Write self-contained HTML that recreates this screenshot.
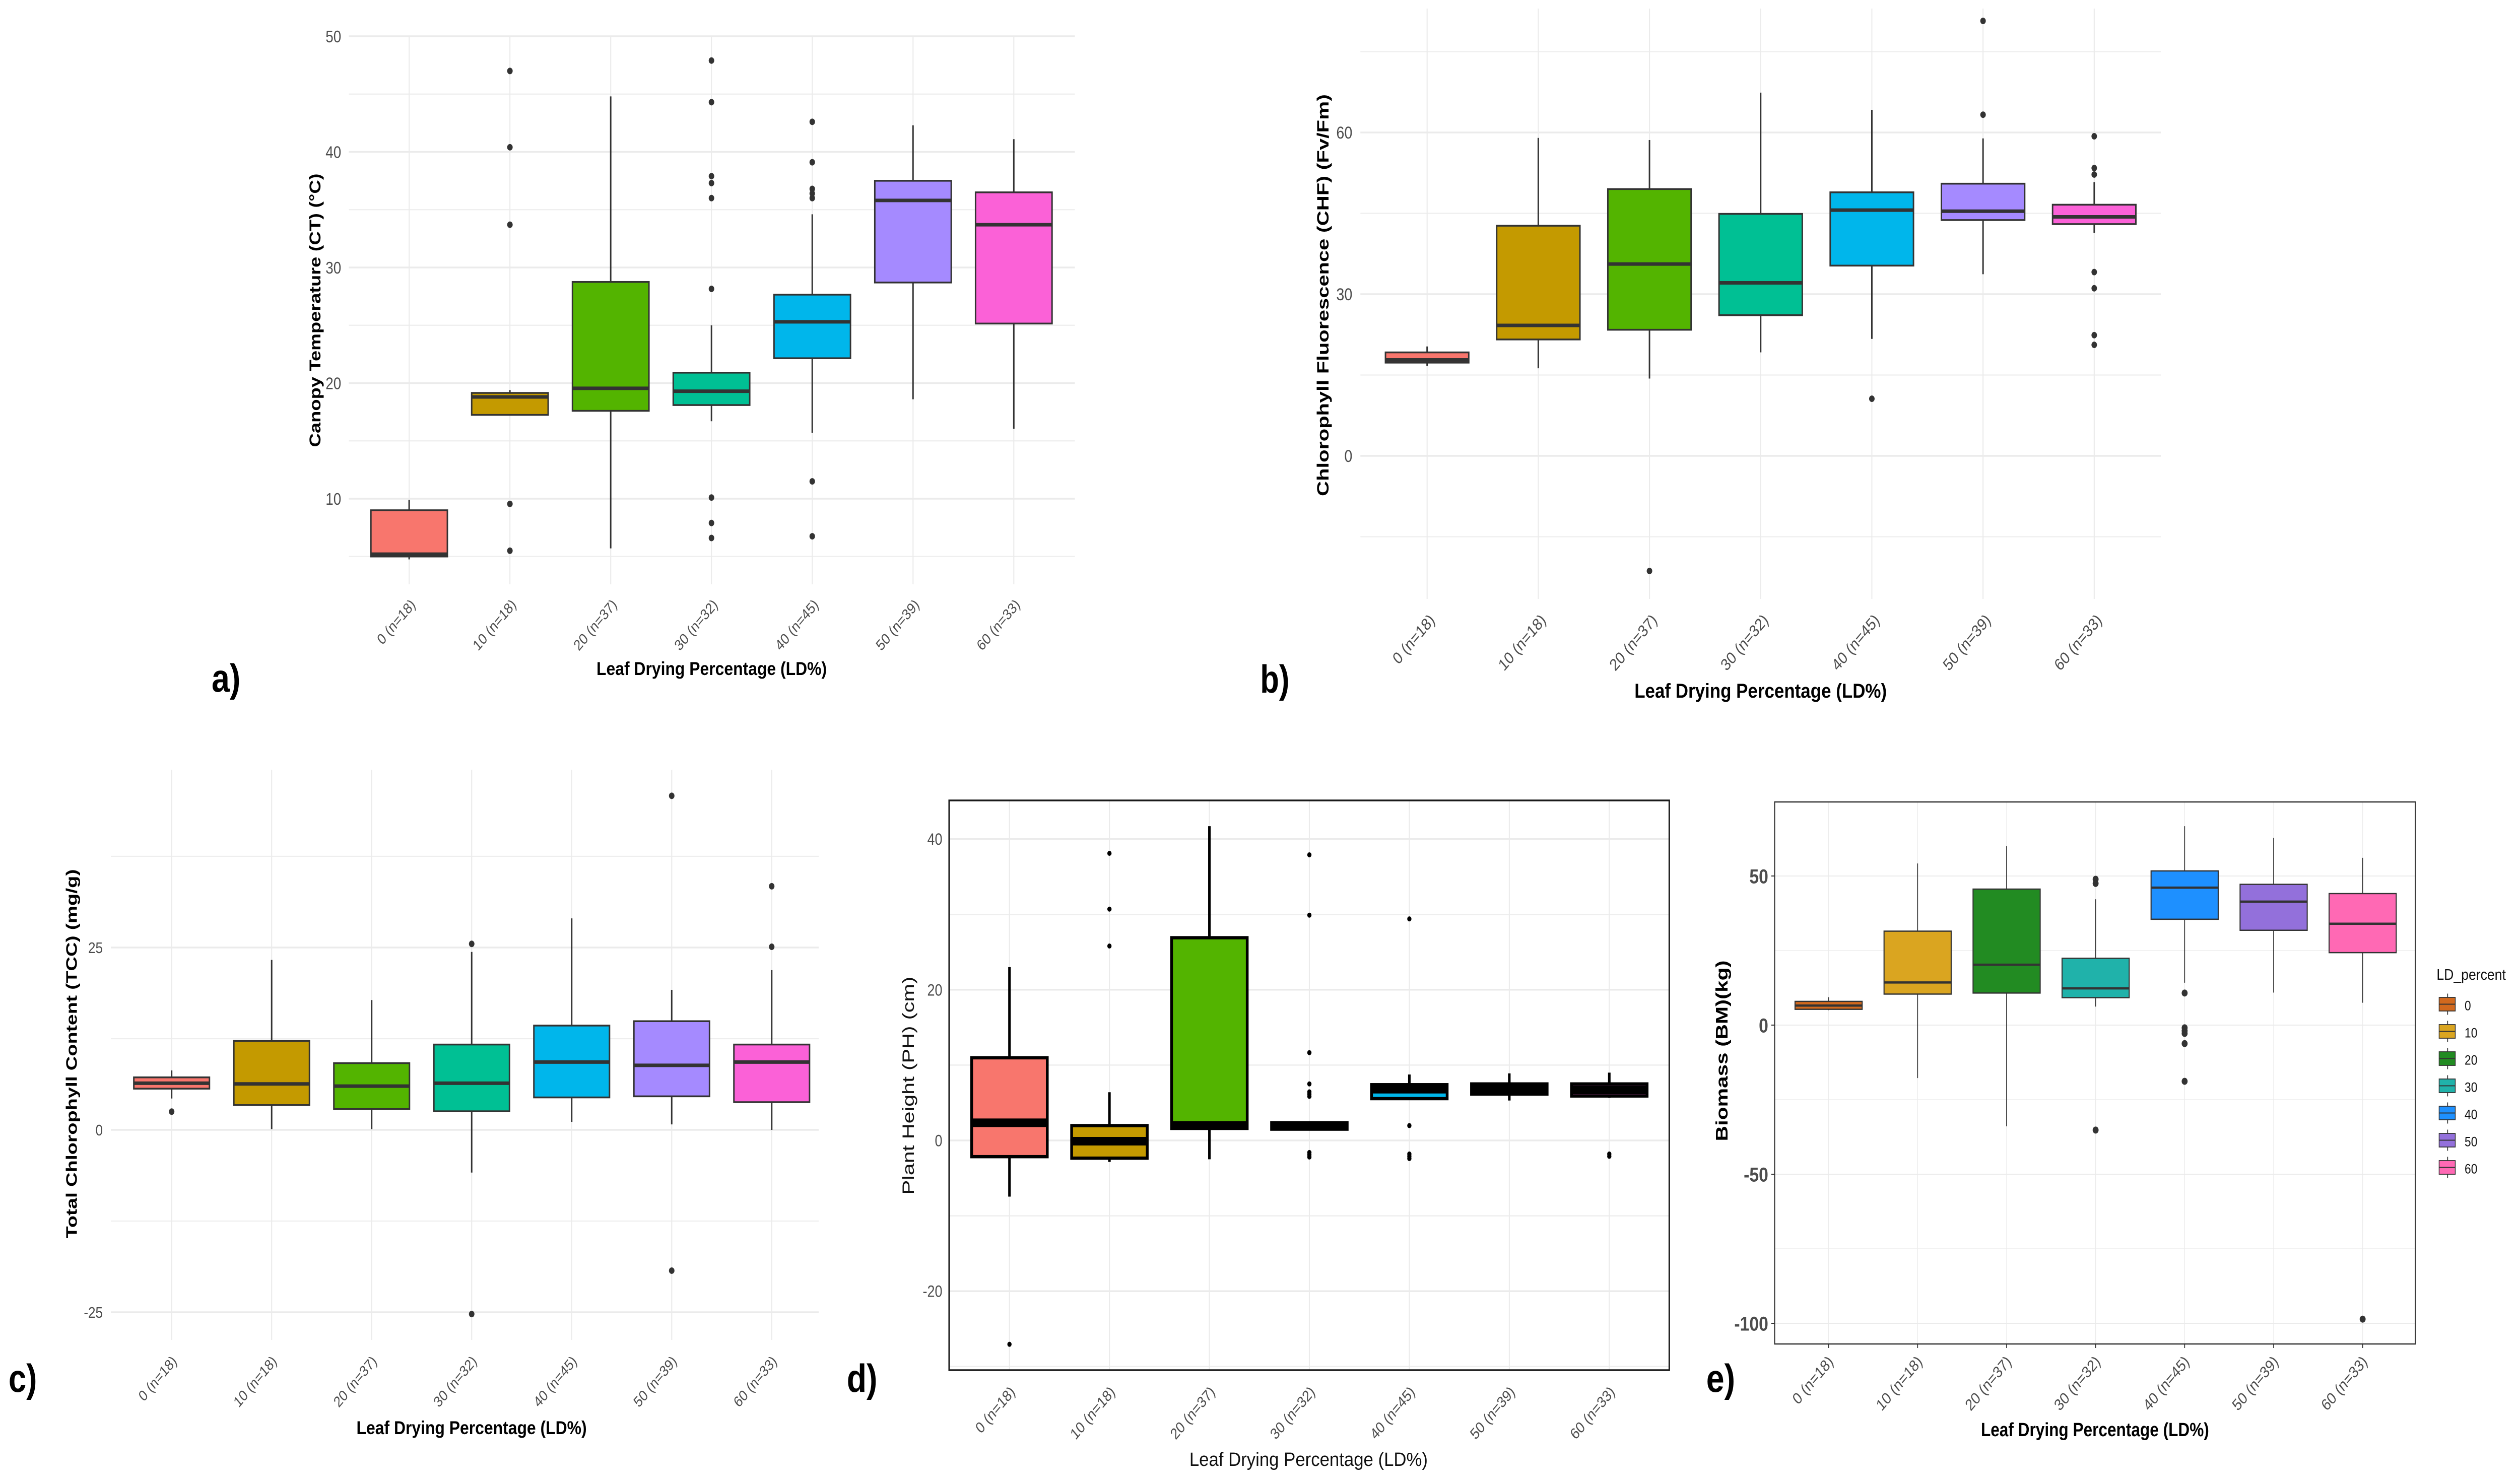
<!DOCTYPE html>
<html lang="en">
<head>
<meta charset="utf-8">
<title>Leaf drying percentage boxplots</title>
<style>
html,body{margin:0;padding:0;background:#fff;width:100%;height:100%;overflow:hidden;}
svg{display:block;width:100vw;height:100vh;}
text{font-family:"Liberation Sans",sans-serif;}
.panel-tag{font-size:78px;font-weight:bold;fill:#000;}
</style>
</head>
<body>
<svg id="figure" xmlns="http://www.w3.org/2000/svg" viewBox="0 0 5929 2946" preserveAspectRatio="none">
  <rect x="0" y="0" width="5929" height="2946" fill="#ffffff"/>

  <g id="panel-a"></g>
  <g id="panel-b"></g>
  <g id="panel-c"></g>
  <g id="panel-d"></g>
  <g id="panel-e"></g>
  <g id="legend"></g>

  <text class="panel-tag" x="498" y="1373" textLength="68" lengthAdjust="spacingAndGlyphs">a)</text>
  <text class="panel-tag" x="2966" y="1375" textLength="69" lengthAdjust="spacingAndGlyphs">b)</text>
  <text class="panel-tag" x="20" y="2763" textLength="67" lengthAdjust="spacingAndGlyphs">c)</text>
  <text class="panel-tag" x="1993" y="2763" textLength="72" lengthAdjust="spacingAndGlyphs">d)</text>
  <text class="panel-tag" x="4016" y="2763" textLength="68" lengthAdjust="spacingAndGlyphs">e)</text>

  <text x="1675" y="1340" text-anchor="middle" font-size="37" font-weight="bold" textLength="542" lengthAdjust="spacingAndGlyphs">Leaf Drying Percentage (LD%)</text>
  <text transform="translate(754 616) rotate(-90)" text-anchor="middle" font-size="37" font-weight="bold" textLength="543" lengthAdjust="spacingAndGlyphs">Canopy Temperature (CT) (°C)</text>

  <text x="4144" y="1385" text-anchor="middle" font-size="40" font-weight="bold" textLength="594" lengthAdjust="spacingAndGlyphs">Leaf Drying Percentage (LD%)</text>
  <text transform="translate(3127 586) rotate(-90)" text-anchor="middle" font-size="38" font-weight="bold" textLength="798" lengthAdjust="spacingAndGlyphs">Chlorophyll Fluorescence (CHF) (Fv/Fm)</text>

  <text x="1110" y="2847" text-anchor="middle" font-size="37" font-weight="bold" textLength="542" lengthAdjust="spacingAndGlyphs">Leaf Drying Percentage (LD%)</text>
  <text transform="translate(181 2092) rotate(-90)" text-anchor="middle" font-size="36" font-weight="bold" textLength="733" lengthAdjust="spacingAndGlyphs">Total Chlorophyll Content (TCC) (mg/g)</text>

  <text x="3080" y="2910" text-anchor="middle" font-size="38" fill="#111" textLength="561" lengthAdjust="spacingAndGlyphs">Leaf Drying Percentage (LD%)</text>
  <text transform="translate(2151 2155) rotate(-90)" text-anchor="middle" font-size="38" fill="#111" textLength="433" lengthAdjust="spacingAndGlyphs">Plant Height (PH) (cm)</text>

  <text x="4931" y="2851" text-anchor="middle" font-size="38" font-weight="bold" textLength="537" lengthAdjust="spacingAndGlyphs">Leaf Drying Percentage (LD%)</text>
  <text transform="translate(4066 2086) rotate(-90)" text-anchor="middle" font-size="40" font-weight="bold" textLength="359" lengthAdjust="spacingAndGlyphs">Biomass (BM)(kg)</text>

  <text x="5735" y="1945" font-size="31" fill="#111" textLength="163" lengthAdjust="spacingAndGlyphs">LD_percent</text>
</svg>

<script>
/* ---------- shared categories and fills ---------- */
const categories = ['0 (n=18)', '10 (n=18)', '20 (n=37)', '30 (n=32)', '40 (n=45)', '50 (n=39)', '60 (n=33)'];
const hueFills = ['#F8766D', '#C49A00', '#53B400', '#00C094', '#00B6EB', '#A58AFF', '#FB61D7'];
const namedFills = ['#D2691E', '#DAA520', '#228B22', '#20B2AA', '#1E90FF', '#9370DB', '#FF69B4'];
const legendLabels = ['0', '10', '20', '30', '40', '50', '60'];

/* ---------- panel a: canopy temperature ---------- */
const aMajorTicks = [10, 20, 30, 40, 50];
const aMinorTicks = [5, 15, 25, 35, 45];
const aQ1 = [5.0, 17.25, 17.6, 18.1, 22.15, 28.7, 25.15];
const aMedian = [5.2, 18.8, 19.55, 19.3, 25.3, 35.8, 33.7];
const aQ3 = [9.0, 19.15, 28.75, 20.9, 27.65, 37.5, 36.5];
const aLow = [4.75, 17.25, 5.7, 16.7, 15.7, 18.6, 16.05];
const aHigh = [9.9, 19.4, 44.8, 25.0, 34.6, 42.3, 41.1];
const aOutliers = [
  [],
  [47.0, 40.4, 33.7, 9.55, 5.5],
  [],
  [47.9, 44.3, 37.9, 37.3, 36.0, 28.15, 10.1, 7.9, 6.6],
  [42.6, 39.1, 36.8, 36.4, 36.0, 11.5, 6.75],
  [],
  []
];

/* ---------- panel b: chlorophyll fluorescence ---------- */
const bMajorTicks = [0, 30, 60];
const bMinorTicks = [-15, 15, 45, 75];
const bQ1 = [17.3, 21.6, 23.4, 26.1, 35.3, 43.75, 43.0];
const bMedian = [17.8, 24.2, 35.6, 32.1, 45.6, 45.4, 44.35];
const bQ3 = [19.2, 42.7, 49.5, 44.9, 48.9, 50.5, 46.6];
const bLow = [16.7, 16.25, 14.35, 19.2, 21.7, 33.7, 41.4];
const bHigh = [20.3, 59.0, 58.6, 67.4, 64.2, 58.9, 50.8];
const bOutliers = [
  [],
  [],
  [-21.35],
  [],
  [10.6],
  [80.7, 63.3],
  [59.3, 53.4, 52.2, 34.1, 31.1, 22.4, 20.6]
];

/* ---------- panel c: total chlorophyll content ---------- */
const cMajorTicks = [-25, 0, 25];
const cMinorTicks = [-12.5, 12.5, 37.5];
const cQ1 = [5.65, 3.4, 2.85, 2.55, 4.45, 4.6, 3.8];
const cMedian = [6.4, 6.3, 6.0, 6.4, 9.3, 8.85, 9.3];
const cQ3 = [7.2, 12.2, 9.15, 11.7, 14.3, 14.9, 11.7];
const cLow = [4.3, 0.1, 0.1, -5.85, 1.1, 0.75, 0];
const cHigh = [8.15, 23.3, 17.8, 24.4, 29.0, 19.2, 21.9];
const cOutliers = [
  [2.5],
  [],
  [],
  [25.5, -25.25],
  [],
  [45.8, -19.3],
  [33.4, 25.1]
];

/* ---------- panel d: plant height ---------- */
const dMajorTicks = [-20, 0, 20, 40];
const dMinorTicks = [-30, -10, 10, 30];
const dQ1 = [-2.15, -2.35, 1.6, 1.5, 5.55, 6.15, 5.9];
const dMedian = [2.35, -0.1, 2.0, 1.9, 6.8, 6.9, 6.7];
const dQ3 = [10.97, 1.97, 26.9, 2.35, 7.4, 7.5, 7.5];
const dLow = [-7.45, -2.85, -2.5, 1.5, 5.55, 5.3, 5.65];
const dHigh = [23.0, 6.4, 41.7, 2.35, 8.75, 8.9, 9.0];
const dOutliers = [
  [-27.05],
  [38.1, 30.7, 25.8],
  [],
  [37.9, 29.9, 11.65, 7.5, 6.45, 6.15, 5.85, -1.6, -1.9, -2.2],
  [29.4, 1.97, -1.8, -2.1, -2.4],
  [],
  [-1.8, -2.1]
];

/* ---------- panel e: biomass ---------- */
const eMajorTicks = [-100, -50, 0, 50];
const eMinorTicks = [-75, -25, 25];
const eQ1 = [5.3, 10.4, 10.75, 9.2, 35.5, 31.8, 24.3];
const eMedian = [6.55, 14.3, 20.25, 12.3, 46.1, 41.4, 34];
const eQ3 = [7.95, 31.5, 45.6, 22.4, 51.7, 47.2, 44.1];
const eLow = [5, -17.75, -33.95, 6.2, 14.2, 10.9, 7.5];
const eHigh = [9.35, 54.2, 60, 42.2, 66.7, 62.8, 56.1];
const eOutliers = [
  [],
  [],
  [],
  [48.9, 47.5, -35.2],
  [10.75, -0.9, -1.9, -2.8, -6.2, -18.85],
  [],
  [-98.6]
];

const SVG_NS = 'http://www.w3.org/2000/svg';

function make(tag, props, parent) {
  const node = document.createElementNS(SVG_NS, tag);
  for (const key in props) node.setAttribute(key, props[key]);
  parent.appendChild(node);
  return node;
}

function drawPanel(id, layout, series) {
  const root = document.getElementById('panel-' + id);
  const xScale = i => layout.xStart + i * layout.xStep;
  const yScale = v => layout.yAtRef - (v - layout.refValue) * layout.pxPerUnit;

  if (layout.frame) {
    const panelBg = make('rect', {x: layout.left, y: layout.top, width: layout.right - layout.left, height: layout.bottom - layout.top, fill: '#fff'}, root);
    
    
  }

  series.minorTicks.forEach(v => {
    const line = make('line', {x1: layout.left, x2: layout.right, y1: yScale(v), y2: yScale(v), stroke: '#eeeeee', 'stroke-width': layout.minorGrid}, root);
    
    
  });

  series.majorTicks.forEach(v => {
    const line = make('line', {x1: layout.left, x2: layout.right, y1: yScale(v), y2: yScale(v), stroke: '#ebebeb', 'stroke-width': layout.majorGrid}, root);
    
    

    const label = make('text', {x: layout.yLabelX, y: yScale(v) + layout.yLabelSize * 0.36, 'text-anchor': 'end', 'font-size': layout.yLabelSize, 'font-weight': layout.yLabelWeight, fill: '#4d4d4d'}, root);
    
    
    label.textContent = String(v);

    if (layout.tickMarks) {
      const tick = make('line', {x1: layout.left - 8, x2: layout.left, y1: yScale(v), y2: yScale(v), stroke: '#333', 'stroke-width': 2}, root);
      
      
    }
  });

  categories.forEach((cat, i) => {
    const cx = xScale(i);
    const vGrid = make('line', {x1: cx, x2: cx, y1: layout.top, y2: layout.bottom, stroke: '#ebebeb', 'stroke-width': layout.vGrid}, root);
    
    
  });

  categories.forEach((cat, i) => {
    const cx = xScale(i);
    const group = make('g', {}, root);
    
    

    const whiskerHigh = make('line', {x1: cx, x2: cx, y1: yScale(series.q3[i]), y2: yScale(series.high[i]), stroke: layout.ink, 'stroke-width': layout.whisker}, group);
    
    

    const whiskerLow = make('line', {x1: cx, x2: cx, y1: yScale(series.q1[i]), y2: yScale(series.low[i]), stroke: layout.ink, 'stroke-width': layout.whisker}, group);
    
    

    const box = make('rect', {x: cx - layout.halfBox, y: yScale(series.q3[i]), width: layout.halfBox * 2, height: yScale(series.q1[i]) - yScale(series.q3[i]), fill: series.fills[i], stroke: layout.ink, 'stroke-width': layout.boxStroke}, group);
    
    

    const median = make('line', {x1: cx - layout.halfBox, x2: cx + layout.halfBox, y1: yScale(series.median[i]), y2: yScale(series.median[i]), stroke: layout.ink, 'stroke-width': layout.medianStroke}, group);
    
    

    series.outliers[i].forEach(v => {
      const dot = make('circle', {cx: cx, cy: yScale(v), r: layout.dot, fill: layout.ink}, group);
      
      
    });

    const px = cx + layout.xLabelDx;
    const label = make('text', {x: px, y: layout.xLabelY, 'text-anchor': 'end', 'font-size': layout.xLabelSize, fill: '#4d4d4d', transform: 'rotate(-45 ' + px + ' ' + layout.xLabelY + ')'}, root);
    
    
    label.textContent = cat;

    if (layout.tickMarks) {
      const tick = make('line', {x1: cx, x2: cx, y1: layout.bottom, y2: layout.bottom + 8, stroke: '#333', 'stroke-width': 2}, root);
      
      
    }
  });

  if (layout.frame) {
    const frame = make('rect', {x: layout.left, y: layout.top, width: layout.right - layout.left, height: layout.bottom - layout.top, fill: 'none', stroke: layout.frame, 'stroke-width': layout.frameWidth}, root);
    
    
  }
}

drawPanel('a', {
  left: 821, right: 2530, top: 72, bottom: 1160, xStart: 963, xStep: 237.2,
  yAtRef: 990, refValue: 10, pxPerUnit: 22.95, halfBox: 90,
  ink: '#333333', boxStroke: 3.5, medianStroke: 7, whisker: 3.5, dot: 6.5,
  majorGrid: 3.5, minorGrid: 2.2, vGrid: 2.5,
  yLabelX: 803, yLabelSize: 33, yLabelWeight: 'normal', xLabelDx: 16.5, xLabelY: 1202, xLabelSize: 30
}, {majorTicks: aMajorTicks, minorTicks: aMinorTicks, q1: aQ1, median: aMedian, q3: aQ3, low: aLow, high: aHigh, outliers: aOutliers, fills: hueFills});

drawPanel('b', {
  left: 3202, right: 5086, top: 17, bottom: 1189, xStart: 3359, xStep: 261.7,
  yAtRef: 905, refValue: 0, pxPerUnit: 10.7, halfBox: 98,
  ink: '#333333', boxStroke: 3.5, medianStroke: 7, whisker: 3.5, dot: 6.5,
  majorGrid: 3.5, minorGrid: 2.2, vGrid: 2.5,
  yLabelX: 3183, yLabelSize: 34, yLabelWeight: 'normal', xLabelDx: 20, xLabelY: 1233, xLabelSize: 33
}, {majorTicks: bMajorTicks, minorTicks: bMinorTicks, q1: bQ1, median: bMedian, q3: bQ3, low: bLow, high: bHigh, outliers: bOutliers, fills: hueFills});

drawPanel('c', {
  left: 261, right: 1927, top: 1528, bottom: 2660, xStart: 404, xStep: 235.4,
  yAtRef: 2243, refValue: 0, pxPerUnit: 14.48, halfBox: 89,
  ink: '#333333', boxStroke: 3.5, medianStroke: 7, whisker: 3.5, dot: 6.5,
  majorGrid: 3.5, minorGrid: 2.2, vGrid: 2.5,
  yLabelX: 242, yLabelSize: 31, yLabelWeight: 'normal', xLabelDx: 14, xLabelY: 2704, xLabelSize: 30
}, {majorTicks: cMajorTicks, minorTicks: cMinorTicks, q1: cQ1, median: cMedian, q3: cQ3, low: cLow, high: cHigh, outliers: cOutliers, fills: hueFills});

drawPanel('d', {
  left: 2234, right: 3929, top: 1589, bottom: 2720, xStart: 2376, xStep: 235.3,
  yAtRef: 2264, refValue: 0, pxPerUnit: 14.96, halfBox: 89,
  ink: '#000000', boxStroke: 6.5, medianStroke: 17, whisker: 6, dot: 5,
  majorGrid: 3.5, minorGrid: 2.5, vGrid: 2.5, frame: '#1a1a1a', frameWidth: 3.5,
  yLabelX: 2218, yLabelSize: 32, yLabelWeight: 'normal', xLabelDx: 15, xLabelY: 2765, xLabelSize: 31
}, {majorTicks: dMajorTicks, minorTicks: dMinorTicks, q1: dQ1, median: dMedian, q3: dQ3, low: dLow, high: dHigh, outliers: dOutliers, fills: hueFills});

drawPanel('e', {
  left: 4177, right: 5685, top: 1592, bottom: 2668, xStart: 4304, xStep: 209.5,
  yAtRef: 2035, refValue: 0, pxPerUnit: 5.92, halfBox: 79,
  ink: '#333333', boxStroke: 2.5, medianStroke: 4.5, whisker: 2, dot: 7,
  majorGrid: 2, minorGrid: 1.5, vGrid: 1.5, frame: '#333333', frameWidth: 2.5, tickMarks: true,
  yLabelX: 4162, yLabelSize: 40, yLabelWeight: 'bold', xLabelDx: 13, xLabelY: 2705, xLabelSize: 32
}, {majorTicks: eMajorTicks, minorTicks: eMinorTicks, q1: eQ1, median: eMedian, q3: eQ3, low: eLow, high: eHigh, outliers: eOutliers, fills: namedFills});

/* ---------- legend for panel e ---------- */
const legendRoot = document.getElementById('legend');
legendLabels.forEach((txt, i) => {
  const cy = 1993.5 + i * 54;
  const entry = make('g', {}, legendRoot);
  
  

  const stem = make('line', {x1: 5761, x2: 5761, y1: cy - 21, y2: cy + 21, stroke: '#333', 'stroke-width': 2}, entry);
  
  

  const keyBox = make('rect', {x: 5741, y: cy - 13.5, width: 38, height: 27, fill: namedFills[i], stroke: '#333', 'stroke-width': 1.8}, entry);
  
  

  const keyMedian = make('line', {x1: 5741, x2: 5779, y1: cy, y2: cy, stroke: '#333', 'stroke-width': 2}, entry);
  
  

  const label = make('text', {x: 5801, y: cy + 12, 'font-size': 27, fill: '#111'}, entry);
  
  
  label.textContent = txt;
});
</script>
</body>
</html>
